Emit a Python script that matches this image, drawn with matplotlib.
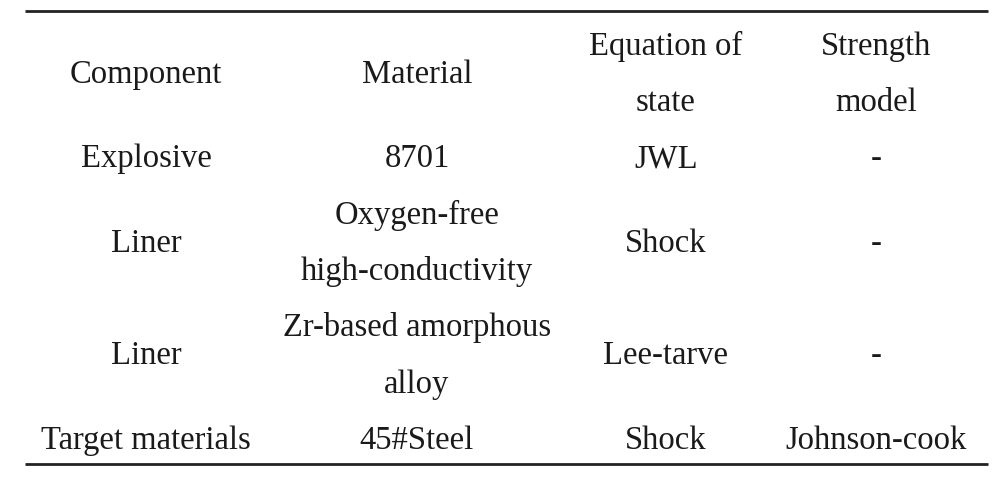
import matplotlib
matplotlib.use('Agg')
import matplotlib.pyplot as plt

# table contents: each cell is a list of text lines
header = [['Component'], ['Material'], ['Equation of', 'state'], ['Strength', 'model']]
rows = [
    [['Explosive'], ['8701'], ['JWL'], ['-']],
    [['Liner'], ['Oxygen-free', 'high-conductivity'], ['Shock'], ['-']],
    [['Liner'], ['Zr-based amorphous', 'alloy'], ['Lee-tarve'], ['-']],
    [['Target materials'], ['45#Steel'], ['Shock'], ['Johnson-cook']],
]

W, H = 1006, 481
col_x = [146, 417, 666, 876]   # column centres in pixels
line_y0 = 43                   # first text line centre
line_h = 56.3                  # line pitch
fs = 23.5

fig = plt.figure(figsize=(W / 100, H / 100), dpi=100)
ax = fig.add_axes([0, 0, 1, 1])
ax.set_xlim(0, W)
ax.set_ylim(H, 0)
ax.axis('off')

plt.rcParams['font.family'] = ['Liberation Serif', 'DejaVu Serif']

def draw_row(cells, first_line):
    n = max(len(c) for c in cells)
    for x, cell in zip(col_x, cells):
        # centre the cell's lines inside the row block
        start = first_line + (n - len(cell)) / 2
        for k, txt in enumerate(cell):
            y = line_y0 + (start + k) * line_h
            ax.text(x, y, txt, ha='center', va='center_baseline', fontsize=fs,
                    color='#1a1a1a')
    return first_line + n

line = 0
line = draw_row(header, line)
for r in rows:
    line = draw_row(r, line)

# top and bottom rules
ax.plot([25, 988], [11.7, 11.7], color='#222222', lw=2.0, solid_capstyle='butt')
ax.plot([25, 988], [465.3, 465.3], color='#222222', lw=2.0, solid_capstyle='butt')

fig.savefig('out.png', dpi=100)
